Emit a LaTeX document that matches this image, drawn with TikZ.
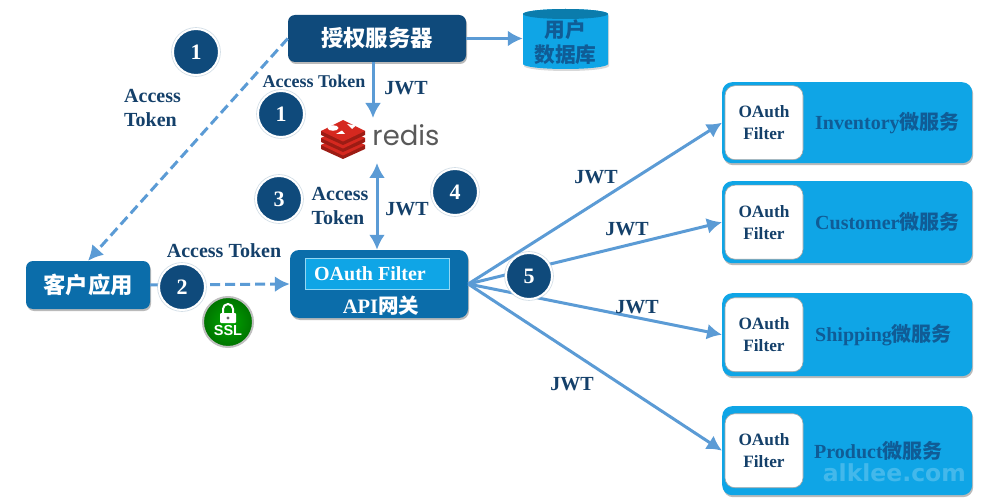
\documentclass[tikz,border=0pt]{standalone}
\usepackage{fontspec}
\setmainfont{Liberation Serif}
\setsansfont{Liberation Sans}
\newfontfamily\cjk{Noto Sans CJK SC}
\newfontfamily\logofont{Poppins}
\newfontfamily\markfont{DejaVu Sans}
\usetikzlibrary{arrows.meta,shadows}
\definecolor{navy}{HTML}{0F4A7B}
\definecolor{midblue}{HTML}{0B6DAA}
\definecolor{skyblue}{HTML}{0FA5E6}
\definecolor{linkblue}{HTML}{5B9BD5}
\definecolor{inkblue}{HTML}{14406A}
\definecolor{svcblue}{HTML}{105C96}
\definecolor{redisred}{HTML}{D5281F}
\definecolor{redisdark}{HTML}{9C1C14}
\begin{document}
\begin{tikzpicture}[x=1pt,y=-1pt,
   boxshadow/.style={drop shadow={shadow xshift=1pt,shadow yshift=-2pt,fill=black!45,opacity=.6}},
   mainbox/.style={rounded corners=7pt,boxshadow,text=white,font=\cjk\bfseries\fontsize{22.4}{22.4}\selectfont},
   svcbox/.style={fill=skyblue,rounded corners=10pt,boxshadow,minimum width=250pt,anchor=north west,inner sep=0pt},
   filterbox/.style={fill=white,rounded corners=10pt,draw=black!35,line width=.6pt,minimum width=78pt,minimum height=74pt,align=center,text=inkblue,font=\bfseries\fontsize{17.3}{22}\selectfont,inner sep=0pt},
   svclabel/.style={text=svcblue,font=\bfseries\fontsize{20}{20}\selectfont,anchor=west,inner sep=0pt},
   stepdot/.style={circle,fill=navy,draw=white,line width=2pt,minimum size=46pt,inner sep=0pt,text=white,drop shadow={shadow xshift=0pt,shadow yshift=0pt,fill=navy!30,opacity=.6,shadow scale=1.08},font=\bfseries\fontsize{22}{22}\selectfont},
   tag/.style={text=inkblue,align=left,inner sep=0pt,font=\bfseries\fontsize{20}{23.5}\selectfont},
   link/.style={draw=linkblue,line width=3pt,-{Latex[length=15pt,width=16pt]}},
   dashlink/.style={link,dash pattern=on 10pt off 5pt}]
\useasboundingbox (0,0) rectangle (983,500);

% top row
\node[mainbox,fill=navy,minimum width=178pt,minimum height=47pt] (auth) at (377,38.5) {授权服务器};
\fill[skyblue,drop shadow={shadow xshift=1pt,shadow yshift=-2pt,fill=black!30,opacity=.5}] (523,14) -- (523,64) arc (180:360:42.5pt and 5pt) -- (608,14) arc (0:180:42.5pt and 5pt) -- cycle;
\fill[skyblue!75!black] (565.5,14) ellipse (42.5pt and 5pt);
\node[align=center,text=svcblue,minimum width=85pt,inner sep=0pt,font=\cjk\bfseries\fontsize{20.7}{25}\selectfont] (userdb) at (565.5,42) {用户\\数据库};

% redis logo
\coordinate (redistop) at (373,118);
\coordinate (redisbot) at (377,163);
\foreach \y in {145,138,131}{
  \fill[redisdark] (321,\y) -- (321,\y+4) -- (343,\y+14) -- (365,\y+4) -- (365,\y) -- cycle;
  \fill[redisred] (321,\y) -- (343,\y-11) -- (365,\y) -- (343,\y+10.5) -- cycle;
}
\fill[white] (333,128) ellipse (5.5pt and 2.8pt) (347,124) -- (356,125.5) -- (352,129) -- cycle (336,134) -- (345,134) -- (342,130.5) -- cycle;
\node[text=black!65,font=\logofont\fontsize{27.5}{27.5}\selectfont,inner sep=0pt] (redis) at (406,135) {redis};

% client and gateway
\node[mainbox,fill=midblue,minimum width=124pt,minimum height=48pt] (client) at (88,285) {客户应用};
\node[rounded corners=9pt,boxshadow,fill=midblue,minimum width=178pt,minimum height=68pt] (gateway) at (379,284) {};
\node[fill=skyblue,draw=skyblue!45,line width=.8pt,minimum width=144pt,minimum height=31pt,text=white,inner sep=0pt,font=\bfseries\fontsize{20}{20}\selectfont] (filter) at (377,274) {\hspace*{-14pt}OAuth Filter};
\node[text=white,inner sep=0pt,font=\bfseries\fontsize{20.5}{20.5}\selectfont] (gatewaytxt) at (381,306) {API{\cjk\bfseries 网关}};

% services
\foreach \nm/\top/\high/\txt/\lx/\ly in {inv/82/81/Inventory/815/123,cus/181/82/Customer/815/222,shi/293/83/Shipping/815/335,pro/406/89/Product/814/451}{
  \node[svcbox,minimum height=\high pt] (\nm) at (722,\top) {};
  \node[filterbox] (\nm filter) at ([xshift=42pt]\nm.west) {OAuth\\Filter};
  \node[svclabel] (\nm label) at (\lx,\ly) {\txt{\cjk\bfseries 微服务}};
}
\node[text=white,opacity=.22,inner sep=0pt,anchor=east,font=\markfont\bfseries\fontsize{23.5}{23.5}\selectfont] (mark) at (966,473) {alklee.com};

% links
\draw[link] (auth.east) -- (userdb.west |- auth.east);
\draw[link] (auth.south -| redistop) -- (redistop);
\draw[link,{Latex[length=15pt,width=16pt]}-{Latex[length=15pt,width=16pt]}] (redisbot) -- (gateway.north -| redisbot);
\draw[dashlink] (auth.west) -- (client.north);
\draw[dashlink] (client.east) -- (gateway.west);
\draw[link] (gateway.east) -- (inv.west);
\draw[link] (gateway.east) -- (cus.west);
\draw[link] (gateway.east) -- (shi.west);
\draw[link] (gateway.east) -- (pro.west);

% step numbers
\node[stepdot] (step1a) at (196,52) {1};
\node[stepdot] (step1b) at (281,114) {1};
\node[stepdot] (step3) at (279,199) {3};
\node[stepdot] (step4) at (455,192) {4};
\node[stepdot] (step5) at (529,276) {5};
\node[stepdot] (step2) at (182,287) {2};

% ssl badge
\node[circle,inner color=green!65!black,outer color=green!45!black,draw=black!25,line width=2pt,minimum size=50pt,inner sep=0pt] (ssl) at (228,322) {};
\node[text=white,inner sep=0pt,font=\sffamily\bfseries\fontsize{14.5}{14.5}\selectfont] (ssltxt) at (228,331) {SSL};
\fill[white,rounded corners=1pt] (220,313) rectangle (236,323);
\fill[black!60] (228,318) circle (1.6pt);
\draw[white,line width=2pt] (223,313) -- (223,309) arc (180:0:5pt) -- (233,313);

% labels
\node[tag] (tok1) at (152.5,108) {Access\\Token};
\node[tag,font=\bfseries\fontsize{18}{18}\selectfont] (tok2) at (314,81) {Access Token};
\node[tag] (jwt1) at (406,88) {JWT};
\node[tag] (tok3) at (340,206) {Access\\Token};
\node[tag] (jwt2) at (407,209) {JWT};
\node[tag] (tok4) at (224,251) {Access Token};
\node[tag] (jwt3) at (596,177) {JWT};
\node[tag] (jwt4) at (627,229) {JWT};
\node[tag] (jwt5) at (637,307) {JWT};
\node[tag] (jwt6) at (572,384) {JWT};
\end{tikzpicture}
\end{document}
